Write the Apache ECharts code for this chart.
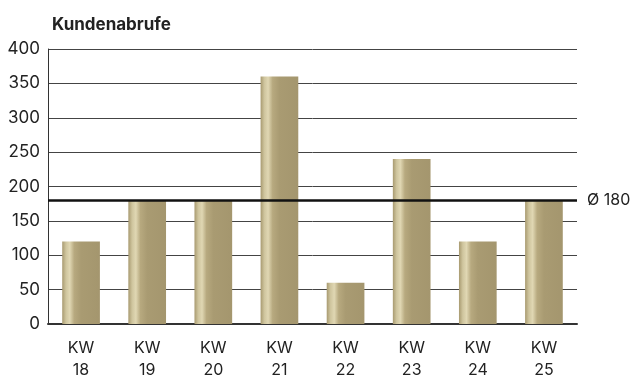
<!DOCTYPE html>
<html>
<head>
<meta charset="utf-8">
<script src="https://cdn.jsdelivr.net/npm/echarts@6/dist/echarts.min.js"></script>
<style>
    html, body { margin: 0; padding: 0; background: #fff; }
    #chart { width: 635px; height: 378px; }
</style>
</head>
<body>
<div id="chart"></div>
<script>
var weeks = ['18', '19', '20', '21', '22', '23', '24', '25'];
var abrufe = [120, 180, 180, 360, 60, 240, 120, 180];
var average = 180;

var chart = echarts.init(document.getElementById('chart'));

// bars: vertical stripe of light gold near the left edge
var barColor = new echarts.graphic.LinearGradient(0, 0, 1, 0, [
    { offset: 0, color: '#a89a70' },
    { offset: 0.1, color: '#cfc59e' },
    { offset: 0.2, color: '#e0d7b3' },
    { offset: 0.32, color: '#b7a97f' },
    { offset: 0.5, color: '#a99b72' },
    { offset: 1, color: '#a4966e' }
]);

var option = {
    animation: false,
    textStyle: { fontFamily: 'Inter' },
    title: {
        text: 'Kundenabrufe',
        left: 47,
        top: 11,
        textStyle: { fontSize: 17, fontWeight: 'bold', color: '#222', fontFamily: 'Inter' }
    },
    grid: {
        left: 48,
        right: 58,
        top: 49,
        bottom: 54,
        outerBoundsMode: 'none',
        containLabel: false
    },
    xAxis: {
        type: 'category',
        data: weeks.map(function(w) { return 'KW\n' + w; }),
        axisLine: { lineStyle: { color: '#333', width: 2 } },
        axisTick: { show: false },
        axisLabel: {
            color: '#222',
            fontSize: 16,
            lineHeight: 22,
            margin: 13
        }
    },
    yAxis: {
        type: 'value',
        min: 0,
        max: 400,
        interval: 50,
        axisLine: { show: true, lineStyle: { color: '#333', width: 1 } },
        axisTick: { show: false },
        axisLabel: { color: '#222', fontSize: 17, margin: 8 },
        splitLine: { lineStyle: { color: '#444', width: 1 } }
    },
    series: [{
        type: 'bar',
        data: abrufe,
        barWidth: '57%',
        itemStyle: { color: barColor },
        markLine: {
            symbol: 'none',
            silent: true,
            lineStyle: { color: '#111', width: 2.5, type: 'solid' },
            label: {
                position: 'end',
                formatter: 'Ø ' + average,
                color: '#222',
                fontSize: 16,
                distance: 10
            },
            data: [{ yAxis: average }]
        }
    }]
};

chart.setOption(option);
</script>
</body>
</html>
